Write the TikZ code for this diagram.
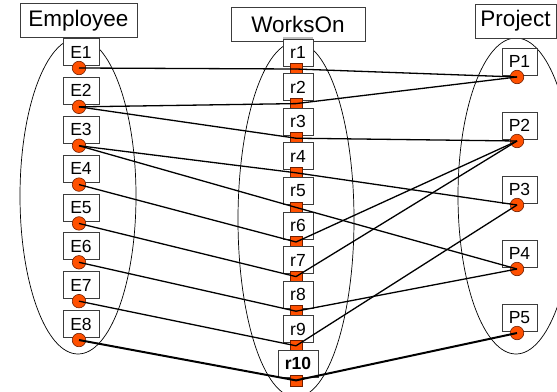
\documentclass[tikz,border=0pt]{standalone}
\usepackage{fontspec}
\setmainfont{Liberation Sans}
\definecolor{dotfill}{RGB}{255,80,0}
\definecolor{dotline}{RGB}{110,30,0}
\definecolor{boxline}{RGB}{60,60,60}
\begin{document}
\begin{tikzpicture}[x=1pt,y=-1pt,
  title/.style={draw=boxline, fill=white, line width=0.8pt, inner sep=0pt,
    minimum height=34pt, font=\fontsize{22.5}{22.5}\selectfont},
  itembox/.style={draw=boxline, fill=white, line width=0.8pt, inner sep=0pt,
    minimum height=27pt, font=\fontsize{17.5}{17.5}\selectfont},
  dot/.style={circle, draw=dotline, fill=dotfill, line width=0.6pt,
    inner sep=0pt, minimum size=13.5pt},
  sq/.style={rectangle, draw=dotline, fill=dotfill, line width=0.6pt,
    inner sep=0pt, minimum width=12pt, minimum height=11pt},
  conn/.style={line width=1.3pt, black},
  thickconn/.style={line width=2pt, black},
  set/.style={draw=black, line width=0.7pt}]
\useasboundingbox (0,0) rectangle (557,391);

% the three entity sets
\draw[set] (78,196) ellipse [x radius=58, y radius=158];
\draw[set] (296,219.6) ellipse [x radius=58, y radius=177.6];
\draw[set] (516,196) ellipse [x radius=58, y radius=158];

% headings
\node[title, minimum width=117pt] (temp) at (78.5,20.5) {Employee};
\node[title, minimum width=134pt] (twork) at (298,24) {WorksOn};
\node[title, minimum width=81pt] (tproj) at (515.5,21) {Project};

% employees
\foreach \i in {1,...,8} {
  \pgfmathsetmacro{\cy}{68+38.86*(\i-1)}
  \node[itembox, minimum width=36pt] (E\i) at (81,\cy-16) {E\i};
  \node[dot] (e\i) at (79,\cy) {};
}

% relationship instances
\fill[black!25] (283,36.5) rectangle (313,40.5);
\foreach \i in {1,...,9} {
  \pgfmathsetmacro{\cy}{69+34.6*(\i-1)}
  \node[itembox, minimum width=30pt] (R\i) at (298,\cy-16.5) {r\i};
  \node[sq] (w\i) at (296,\cy) {};
}
\node[itembox, minimum width=40pt, font=\fontsize{17.5}{17.5}\selectfont\bfseries]
  (R10) at (298,363.5) {r10};
\node[sq] (w10) at (296,380.4) {};

% projects
\foreach \i in {1,...,5} {
  \pgfmathsetmacro{\cy}{77+64*(\i-1)}
  \node[itembox, minimum width=35pt] (P\i) at (519.5,\cy-15.5) {P\i};
  \node[dot] (p\i) at (517,\cy) {};
}

% employee -> works-on links
\draw[conn] (e1.center) -- (w1.center);
\draw[conn] (e2.center) -- (w2.center);
\draw[conn] (e2.center) -- (w3.center);
\draw[conn] (e3.center) -- (w4.center);
\draw[conn] (e3.center) -- (w5.center);
\draw[conn] (e4.center) -- (w6.center);
\draw[conn] (e5.center) -- (w7.center);
\draw[conn] (e6.center) -- (w8.center);
\draw[conn] (e7.center) -- (w9.center);
\draw[thickconn] (e8.center) -- (w10.center);

% works-on -> project links
\draw[conn] (w1.center) -- (p1.center);
\draw[conn] (w2.center) -- (p1.center);
\draw[conn] (w3.center) -- (p2.center);
\draw[conn] (w4.center) -- (p3.center);
\draw[conn] (w5.center) -- (p4.center);
\draw[conn] (w6.center) -- (p2.center);
\draw[conn] (w7.center) -- (p2.center);
\draw[conn] (w8.center) -- (p4.center);
\draw[conn] (w9.center) -- (p3.center);
\draw[thickconn] (w10.center) -- (p5.center);
\end{tikzpicture}
\end{document}
